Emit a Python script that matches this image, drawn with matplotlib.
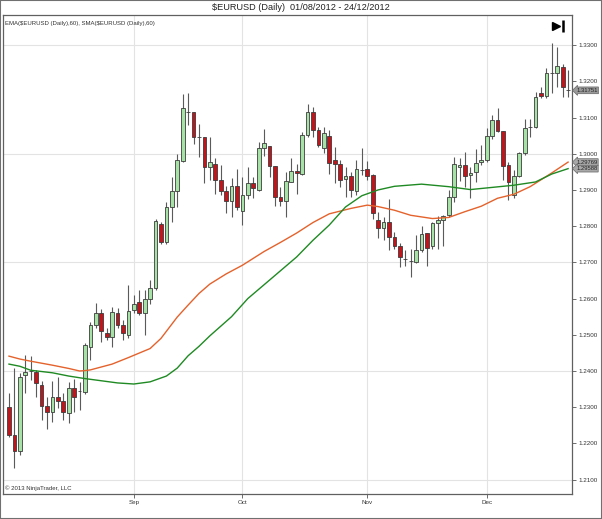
import numpy as np
import pandas as pd
import matplotlib
matplotlib.use('Agg')
import matplotlib.pyplot as plt
from matplotlib.patches import Rectangle

plt.rcParams['font.family'] = ['Liberation Sans', 'DejaVu Sans']

# daily bars, 01/08/2012 - 24/12/2012 (business days)
dates = pd.bdate_range('2012-08-01', '2012-12-24')

opens = [1.2301, 1.2223, 1.2178, 1.2390, 1.2400, 1.2398, 1.2361, 1.2304, 1.2287, 1.2328,
         1.2317, 1.2285, 1.2352, 1.2344, 1.2341, 1.2467, 1.2527, 1.2560, 1.2505, 1.2494,
         1.2561, 1.2527, 1.2499, 1.2568, 1.2591, 1.2561, 1.2598, 1.2628, 1.2807, 1.2755,
         1.2852, 1.2897, 1.2980, 1.3114, 1.3114, 1.3045, 1.3045, 1.2964, 1.2973, 1.2927,
         1.2898, 1.2870, 1.2910, 1.2842, 1.2886, 1.2918, 1.2901, 1.3015, 1.3021, 1.2966,
         1.2881, 1.2870, 1.2922, 1.2953, 1.2944, 1.3051, 1.3116, 1.3065, 1.3015, 1.3050,
         1.2984, 1.2971, 1.2929, 1.2938, 1.2898, 1.2955, 1.2957, 1.2940, 1.2817, 1.2794,
         1.2812, 1.2770, 1.2745, 1.2708, 1.2704, 1.2701, 1.2734, 1.2780, 1.2745, 1.2809,
         1.2817, 1.2830, 1.2881, 1.2964, 1.2970, 1.2941, 1.2950, 1.2976, 1.2982, 1.3049,
         1.3093, 1.3063, 1.2968, 1.2886, 1.2939, 1.3002, 1.3073, 1.3074, 1.3168, 1.3159,
         1.3223, 1.3223, 1.3240, 1.3177]
highs = [1.2339, 1.2408, 1.2394, 1.2444, 1.2442, 1.2402, 1.2373, 1.2328, 1.2373, 1.2384,
         1.2339, 1.2370, 1.2379, 1.2370, 1.2478, 1.2536, 1.2587, 1.2571, 1.2518, 1.2577,
         1.2573, 1.2540, 1.2637, 1.2609, 1.2625, 1.2625, 1.2651, 1.2820, 1.2812, 1.2867,
         1.2935, 1.2999, 1.3165, 1.3168, 1.3114, 1.3082, 1.3045, 1.3045, 1.2987, 1.2969,
         1.2910, 1.2932, 1.2957, 1.2936, 1.2964, 1.2936, 1.3033, 1.3067, 1.3021, 1.2966,
         1.2909, 1.2950, 1.2987, 1.2973, 1.3060, 1.3137, 1.3130, 1.3074, 1.3074, 1.3065,
         1.3019, 1.2984, 1.2964, 1.2950, 1.2982, 1.3017, 1.2980, 1.2944, 1.2840, 1.2824,
         1.2874, 1.2784, 1.2754, 1.2734, 1.2736, 1.2775, 1.2800, 1.2780, 1.2812, 1.2828,
         1.2830, 1.2899, 1.2991, 1.2987, 1.3005, 1.2964, 1.3012, 1.3024, 1.3070, 1.3107,
         1.3125, 1.3063, 1.2978, 1.2955, 1.3005, 1.3095, 1.3095, 1.3171, 1.3185, 1.3236,
         1.3305, 1.3294, 1.3249, 1.3231]
lows = [1.2217, 1.2132, 1.2167, 1.2340, 1.2375, 1.2328, 1.2264, 1.2239, 1.2259, 1.2297,
        1.2264, 1.2255, 1.2287, 1.2292, 1.2337, 1.2430, 1.2518, 1.2480, 1.2485, 1.2465,
        1.2518, 1.2485, 1.2490, 1.2561, 1.2554, 1.2499, 1.2586, 1.2625, 1.2752, 1.2752,
        1.2812, 1.2853, 1.2978, 1.3079, 1.3027, 1.2990, 1.2918, 1.2927, 1.2890, 1.2886,
        1.2835, 1.2826, 1.2844, 1.2803, 1.2874, 1.2877, 1.2897, 1.2993, 1.2936, 1.2855,
        1.2855, 1.2826, 1.2922, 1.2890, 1.2941, 1.3047, 1.3047, 1.3019, 1.3003, 1.2945,
        1.2918, 1.2909, 1.2881, 1.2881, 1.2886, 1.2941, 1.2927, 1.2819, 1.2766, 1.2761,
        1.2734, 1.2736, 1.2688, 1.2690, 1.2660, 1.2699, 1.2729, 1.2690, 1.2736, 1.2736,
        1.2745, 1.2826, 1.2867, 1.2925, 1.2909, 1.2877, 1.2922, 1.2969, 1.2978, 1.3042,
        1.3060, 1.2927, 1.2872, 1.2877, 1.2936, 1.2996, 1.3047, 1.3070, 1.3153, 1.3153,
        1.3167, 1.3185, 1.3157, 1.3157]
closes = [1.2223, 1.2178, 1.2384, 1.2397, 1.2400, 1.2366, 1.2303, 1.2287, 1.2328, 1.2317,
          1.2287, 1.2352, 1.2329, 1.2344, 1.2471, 1.2527, 1.2561, 1.2511, 1.2494, 1.2563,
          1.2527, 1.2504, 1.2566, 1.2585, 1.2561, 1.2598, 1.2628, 1.2815, 1.2755, 1.2852,
          1.2897, 1.2984, 1.3127, 1.3114, 1.3045, 1.3045, 1.2964, 1.2978, 1.2927, 1.2898,
          1.2870, 1.2910, 1.2853, 1.2886, 1.2918, 1.2904, 1.3015, 1.3031, 1.2966, 1.2881,
          1.2870, 1.2925, 1.2953, 1.2948, 1.3051, 1.3116, 1.3065, 1.3024, 1.3058, 1.2975,
          1.2971, 1.2927, 1.2938, 1.2899, 1.2957, 1.2955, 1.2938, 1.2835, 1.2794, 1.2812,
          1.2770, 1.2745, 1.2714, 1.2708, 1.2704, 1.2734, 1.2778, 1.2741, 1.2809, 1.2817,
          1.2828, 1.2881, 1.2973, 1.2970, 1.2939, 1.2948, 1.2975, 1.2984, 1.3049, 1.3093,
          1.3063, 1.2966, 1.2922, 1.2939, 1.3002, 1.3070, 1.3073, 1.3157, 1.3160, 1.3223,
          1.3223, 1.3242, 1.3183, 1.31751]

# EMA(60) and SMA(60) at these bar numbers
ema_bar = [0, 2, 4, 8, 11, 13, 14, 15, 17, 19, 20, 22, 26, 28, 31, 33, 35, 37, 40, 43, 47,
           50, 53, 56, 59, 63, 66, 68, 71, 74, 78, 81, 84, 87, 90, 93, 96, 100, 103]
ema_val = [1.2441, 1.2433, 1.2427, 1.2416, 1.2407, 1.2400, 1.2401, 1.2403, 1.2411, 1.2419,
           1.2425, 1.2437, 1.2462, 1.2490, 1.2549, 1.2582, 1.2614, 1.2640, 1.2668, 1.2692,
           1.2730, 1.2755, 1.2781, 1.2810, 1.2834, 1.2849, 1.2858, 1.2854, 1.2844, 1.2830,
           1.2821, 1.2824, 1.2840, 1.2855, 1.2877, 1.2888, 1.2909, 1.2947, 1.29769]
sma_bar = [0, 2, 4, 8, 11, 14, 17, 20, 23, 26, 29, 31, 33, 35, 37, 41, 44, 48, 53, 56,
           59, 62, 65, 68, 71, 76, 81, 85, 89, 93, 97, 100, 103]
sma_val = [1.2419, 1.2413, 1.2402, 1.2395, 1.2386, 1.2379, 1.2373, 1.2367, 1.2364, 1.2370,
           1.2386, 1.2408, 1.2442, 1.2468, 1.2497, 1.2550, 1.2600, 1.2651, 1.2715, 1.2761,
           1.2803, 1.2853, 1.2884, 1.2900, 1.2910, 1.2916, 1.2909, 1.2901, 1.2907, 1.2913,
           1.2922, 1.2944, 1.29588]

price_ticks = [1.21, 1.22, 1.23, 1.24, 1.25, 1.26, 1.27, 1.28, 1.29, 1.30, 1.31, 1.32, 1.33]
grid_prices = [1.21, 1.24, 1.27, 1.30, 1.33]

o = np.array(opens)
h = np.array(highs)
l = np.array(lows)
c = np.array(closes)
x = np.arange(len(c))
up = c >= o

fig = plt.figure(figsize=(6.02, 5.19), dpi=100)
ax = fig.add_axes([0.005, 0.048, 0.945, 0.923])

# grid
month_pos = [i for i in range(1, len(dates)) if dates[i].month != dates[i - 1].month]
month_lab = [dates[i].strftime('%b') for i in month_pos]
for gp in grid_prices:
    ax.axhline(gp, color='#e3e3e3', lw=0.8, zorder=0)
for mp in month_pos:
    ax.axvline(mp, color='#e3e3e3', lw=0.8, zorder=0)

# candles
ax.vlines(x, l, h, color='#5a5a5a', lw=0.8, zorder=2)
body_lo = np.minimum(o, c)
body_h = np.abs(c - o)
ax.bar(x[up], body_h[up], bottom=body_lo[up], width=0.68, color='#a6e2a6',
       edgecolor='#3c3c3c', lw=0.6, zorder=3)
ax.bar(x[~up], body_h[~up], bottom=body_lo[~up], width=0.68, color='#c1141b',
       edgecolor='#3c3c3c', lw=0.6, zorder=3)

# moving averages
ax.plot(ema_bar, ema_val, color='#e4622c', lw=1.0, zorder=4)
ax.plot(sma_bar, sma_val, color='#1f8a23', lw=1.0, zorder=4)

ax.set_xlim(-1.1, 103.7)
ax.set_ylim(1.2060, 1.3383)

ax.yaxis.tick_right()
ax.set_yticks(price_ticks)
ax.set_yticklabels(['%.4f' % p for p in price_ticks])
ax.set_xticks(month_pos)
ax.set_xticklabels(month_lab)
ax.tick_params(axis='both', labelsize=4.5, colors='#555555', labelcolor='#333333',
               length=3, width=0.6, pad=1.5)
for s in ax.spines.values():
    s.set_color('#606060')
    s.set_linewidth(0.9)

# price markers on the right axis
for val, fc in [(c[-1], '#9a9a9a'), (ema_val[-1], '#a8a8a8'), (sma_val[-1], '#a8a8a8')]:
    ax.annotate('%.5f' % val, xy=(1.0, val), xycoords=('axes fraction', 'data'),
                xytext=(3, 0), textcoords='offset points', fontsize=4.2, color='#222222',
                va='center', ha='left', annotation_clip=False,
                bbox=dict(boxstyle='larrow,pad=0.15', fc=fc, ec='#666666', lw=0.5))

# texts
fig.text(0.5, 0.986, '\\$EURUSD (Daily)  01/08/2012 - 24/12/2012', ha='center', va='center',
         fontsize=6.6, color='#222222')
ax.text(0.003, 0.988, 'EMA(\\$EURUSD (Daily),60), SMA(\\$EURUSD (Daily),60)',
        transform=ax.transAxes, fontsize=4.3, va='top', ha='left', color='#333333')
ax.text(0.003, 0.006, '\u00a9 2013 NinjaTrader, LLC', transform=ax.transAxes,
        fontsize=4.3, va='bottom', ha='left', color='#333333')

# scroll-to-end icon
ax.plot([0.972], [0.978], marker='>', ms=6, color='black', transform=ax.transAxes, clip_on=False)
ax.plot([0.984], [0.978], marker='|', ms=8, mew=1.8, color='black', transform=ax.transAxes, clip_on=False)

fig.patches.append(Rectangle((0, 0), 1, 1, transform=fig.transFigure, fill=False,
                             ec='#707070', lw=1.5))

fig.savefig('out.png', dpi=100)
